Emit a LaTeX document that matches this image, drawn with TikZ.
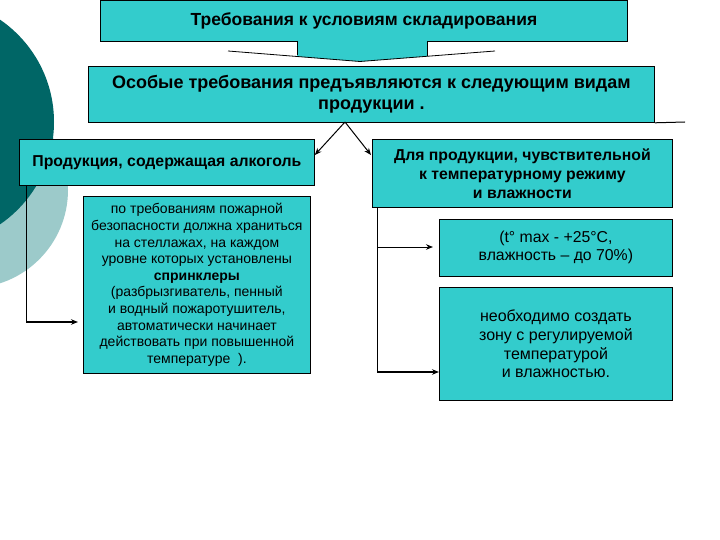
\documentclass[tikz,border=0pt]{standalone}
\usepackage{fontspec}
\setmainfont{Liberation Sans}
\usetikzlibrary{arrows.meta}
\definecolor{boxfill}{HTML}{33CCCC}
\definecolor{darkcirc}{HTML}{006666}
\definecolor{lightcirc}{HTML}{9CCACA}
\begin{document}
\begin{tikzpicture}[x=1pt,y=-1pt,
  box/.style={draw=black, line width=0.8pt, fill=boxfill, anchor=north west,
    inner sep=0pt, align=center, text=black},
  conn/.style={line width=1pt},
  arr/.style={line width=1pt, -{Stealth[length=7pt,width=5.5pt]}},
  arrthick/.style={line width=1.6pt, -{Stealth[length=7pt,width=5.5pt]}}]
\useasboundingbox (0,0) rectangle (720,540);
% background circles
\fill[lightcirc] (-30,190) circle[radius=98];
\fill[darkcirc] (-70,122) circle[radius=124];
% title box
\node[box, minimum width=527, minimum height=40.5,
  font=\fontsize{17.5}{20}\selectfont\bfseries] (t) at (100,0.5)
  {Требования к условиям складирования};
% callout tail
\coordinate (tl) at (228,51);
\coordinate (tv) at (360,61.5);
\coordinate (tr) at (495,51);
\begin{scope}
\clip (297,40.3) rectangle (427,70);
\fill[boxfill] (228,40) -- (tl) -- (tv) -- (tr) -- (495,40) -- cycle;
\end{scope}
\draw[line width=0.8pt] (tl) -- (tv) -- (tr);
\draw[line width=0.8pt] (297,41) -- (297,55.5);
\draw[line width=0.8pt] (427,41) -- (427,56.3);
% second box
\node[box, minimum width=566, minimum height=56,
  font=\fontsize{18}{21}\selectfont\bfseries] (b) at (88,66)
  {Особые требования предъявляются к следующим видам\\продукции .};
\coordinate (bend) at (685,122);
\draw[conn] (b.south east) -- (bend);
% category boxes
\node[box, minimum width=295, minimum height=46,
  font=\fontsize{15.8}{18}\selectfont\bfseries] (alc) at (19,139)
  {Продукция, содержащая алкоголь};
\node[box, minimum width=300, minimum height=68,
  font=\fontsize{15.8}{19}\selectfont\bfseries] (sens) at (372,139)
  {Для продукции, чувствительной\\к температурному режиму\\и влажности};
% detail boxes
\node[box, minimum width=227, minimum height=177,
  font=\fontsize{14}{16.6}\selectfont] (spr) at (83,196)
  {по требованиям пожарной\\безопасности должна храниться\\на стеллажах, на каждом\\уровне которых установлены\\\textbf{спринклеры}\\(разбрызгиватель, пенный\\и водный пожаротушитель,\\автоматически начинает\\действовать при повышенной\\температуре\ \ ).};
\node[box, minimum width=233, minimum height=57,
  font=\fontsize{15.8}{18}\selectfont] (temp) at (439,219)
  {(t° max - +25°C,\\влажность – до 70\%)};
\node[box, minimum width=233, minimum height=113,
  font=\fontsize{16}{18.7}\selectfont] (zone) at (439,287)
  {необходимо создать\\зону с регулируемой\\температурой\\и влажностью.};
% connectors
\coordinate (apex) at (345,122);
\draw[arr] (apex) -- (alc.east |- 0,155);
\draw[arr] (apex) -- ([xshift=-1pt]sens.west |- 0,155);
\coordinate (lturn) at (26,322);
\draw[conn] (alc.south west -| lturn) -- (lturn);
\draw[arrthick] (lturn) -- ([xshift=-5pt]spr.west |- lturn);
\coordinate (rturn) at (377,372);
\draw[conn] (sens.south west -| rturn) -- (rturn);
\draw[arr] (rturn |- 0,247) -- ([xshift=-6pt]temp.west |- 0,247);
\draw[arrthick] (rturn) -- (zone.west |- rturn);
\end{tikzpicture}
\end{document}
